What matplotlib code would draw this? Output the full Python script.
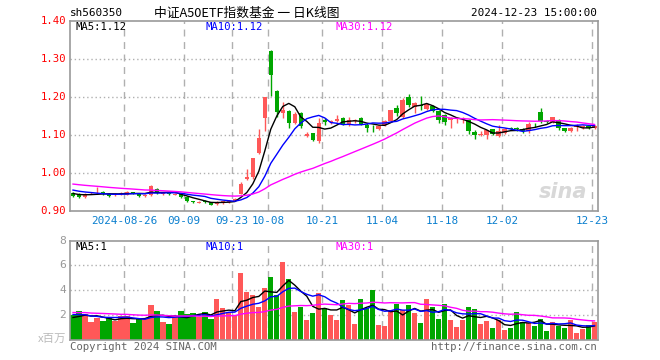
import matplotlib
matplotlib.use("Agg")
import matplotlib.pyplot as plt
import numpy as np
import pandas as pd

# ---------------- data ----------------
holidays = ["2024-09-16", "2024-09-17", "2024-10-01", "2024-10-02", "2024-10-03",
            "2024-10-04", "2024-10-07"]
dates = [d for d in pd.bdate_range("2024-08-13", "2024-12-23") if d.strftime("%Y-%m-%d") not in holidays]

opens = [0.947, 0.945, 0.938, 0.946, 0.946, 0.951, 0.945, 0.942, 0.944, 0.943,
         0.949, 0.946, 0.940, 0.941, 0.959, 0.945, 0.946, 0.943, 0.945, 0.938,
         0.925, 0.922, 0.926, 0.923, 0.918, 0.922, 0.923, 0.927, 0.945, 0.985,
         0.988, 1.053, 1.145, 1.320, 1.215, 1.158, 1.162, 1.131, 1.156, 1.096,
         1.104, 1.085, 1.139, 1.133, 1.137, 1.143, 1.126, 1.136, 1.143, 1.127,
         1.119, 1.116, 1.125, 1.136, 1.170, 1.148, 1.199, 1.173, 1.177, 1.169,
         1.175, 1.162, 1.152, 1.138, 1.142, 1.141, 1.140, 1.107, 1.099, 1.100,
         1.114, 1.096, 1.105, 1.117, 1.117, 1.116, 1.110, 1.127, 1.160, 1.136,
         1.133, 1.140, 1.117, 1.110, 1.120, 1.120, 1.123, 1.118]
highs = [0.949, 0.946, 0.947, 0.951, 0.962, 0.953, 0.946, 0.946, 0.950, 0.953,
         0.951, 0.947, 0.945, 0.968, 0.961, 0.950, 0.947, 0.947, 0.946, 0.939,
         0.927, 0.927, 0.928, 0.924, 0.925, 0.927, 0.929, 0.934, 0.976, 1.009,
         1.040, 1.114, 1.200, 1.322, 1.218, 1.185, 1.164, 1.160, 1.160, 1.108,
         1.106, 1.145, 1.145, 1.140, 1.152, 1.146, 1.146, 1.142, 1.146, 1.130,
         1.127, 1.126, 1.138, 1.166, 1.178, 1.196, 1.208, 1.186, 1.202, 1.184,
         1.178, 1.164, 1.155, 1.146, 1.148, 1.146, 1.141, 1.112, 1.110, 1.113,
         1.116, 1.125, 1.117, 1.121, 1.120, 1.118, 1.134, 1.130, 1.171, 1.140,
         1.148, 1.142, 1.119, 1.121, 1.128, 1.127, 1.125, 1.126]
lows = [0.937, 0.935, 0.933, 0.944, 0.944, 0.943, 0.937, 0.940, 0.942, 0.941,
        0.945, 0.936, 0.937, 0.940, 0.945, 0.941, 0.942, 0.941, 0.935, 0.923,
        0.920, 0.920, 0.922, 0.915, 0.916, 0.919, 0.921, 0.925, 0.944, 0.982,
        0.985, 1.050, 1.111, 1.202, 1.148, 1.145, 1.118, 1.128, 1.119, 1.093,
        1.083, 1.078, 1.126, 1.128, 1.134, 1.126, 1.123, 1.132, 1.125, 1.107,
        1.107, 1.113, 1.122, 1.133, 1.150, 1.145, 1.172, 1.157, 1.165, 1.165,
        1.160, 1.130, 1.125, 1.117, 1.131, 1.131, 1.103, 1.088, 1.096, 1.088,
        1.099, 1.094, 1.102, 1.112, 1.110, 1.104, 1.106, 1.120, 1.131, 1.130,
        1.131, 1.112, 1.108, 1.108, 1.110, 1.114, 1.115, 1.116]
closes = [0.940, 0.938, 0.945, 0.948, 0.948, 0.945, 0.940, 0.944, 0.948, 0.951,
          0.947, 0.940, 0.943, 0.966, 0.947, 0.947, 0.944, 0.945, 0.937, 0.925,
          0.923, 0.924, 0.924, 0.917, 0.923, 0.925, 0.927, 0.932, 0.971, 0.988,
          1.039, 1.092, 1.199, 1.257, 1.160, 1.164, 1.132, 1.155, 1.123, 1.102,
          1.087, 1.130, 1.133, 1.136, 1.141, 1.129, 1.139, 1.139, 1.129, 1.118,
          1.117, 1.124, 1.136, 1.164, 1.158, 1.192, 1.178, 1.184, 1.175, 1.182,
          1.163, 1.138, 1.134, 1.144, 1.145, 1.143, 1.110, 1.099, 1.101, 1.112,
          1.101, 1.111, 1.114, 1.116, 1.115, 1.111, 1.129, 1.125, 1.136, 1.134,
          1.146, 1.118, 1.110, 1.118, 1.123, 1.122, 1.117, 1.122]
volumes = [2.05, 2.32, 2.13, 1.44, 1.79, 1.52, 1.79, 1.55, 1.92, 1.95,
           1.36, 1.73, 1.65, 2.80, 2.32, 1.44, 1.28, 1.87, 2.32, 2.08,
           2.16, 1.87, 2.24, 1.71, 3.28, 2.56, 2.21, 2.00, 5.39, 3.84,
           3.65, 2.64, 4.16, 5.04, 3.65, 6.24, 4.88, 2.24, 2.64, 1.60,
           2.16, 3.76, 2.56, 2.00, 1.60, 3.20, 2.80, 1.28, 3.28, 2.61,
           4.00, 1.20, 1.12, 2.45, 2.88, 2.40, 2.80, 2.16, 1.36, 3.28,
           2.64, 1.68, 2.88, 1.60, 1.04, 1.60, 2.64, 2.48, 1.28, 1.52,
           0.96, 1.60, 0.80, 0.96, 2.24, 1.44, 1.39, 1.12, 1.68, 0.72,
           1.44, 1.12, 0.96, 1.60, 0.56, 0.88, 1.20, 1.44]

# sessions before the visible window (needed only for the moving averages)
prior_closes = [0.990, 0.992, 0.988, 0.985, 0.987, 0.983, 0.980, 0.984, 0.981, 0.978,
                0.975, 0.979, 0.976, 0.972, 0.974, 0.970, 0.973, 0.968, 0.971, 0.966,
                0.968, 0.965, 0.962, 0.964, 0.960, 0.952, 0.948, 0.946, 0.944]
prior_volumes = [2.5, 2.1, 2.6, 2.3, 2.0, 2.4, 2.2, 2.7, 2.1, 2.3,
                 2.5, 2.0, 2.2, 2.4, 2.3, 2.1, 2.6, 2.2, 2.1, 2.2,
                 2.4, 2.2, 2.5, 2.1, 2.25, 1.9, 1.6, 1.8, 1.7]

tick_dates = ["2024-08-26", "2024-09-09", "2024-09-23", "2024-10-08", "2024-10-21",
              "2024-11-04", "2024-11-18", "2024-12-02", "2024-12-23"]
tick_labels = ["2024-08-26", "09-09", "09-23", "10-08", "10-21", "11-04", "11-18", "12-02", "12-23"]
price_ticks = [0.90, 1.00, 1.10, 1.20, 1.30, 1.40]
vol_ticks = [2, 4, 6, 8]

code = "sh560350"
title = "中证A50ETF指数基金 一 日K线图"
stamp = "2024-12-23 15:00:00"

# ---------------- derived ----------------
n = len(closes)
x = np.arange(n)
o = np.array(opens); h = np.array(highs); l = np.array(lows); c = np.array(closes)
v = np.array(volumes)
cs = pd.Series(prior_closes + closes)
vs = pd.Series(prior_volumes + volumes)
npre = len(prior_closes)
ma = {p: cs.rolling(p).mean().values[npre:] for p in (5, 10, 30)}
vma = {p: vs.rolling(p).mean().values[npre:] for p in (5, 10, 30)}

date_str = [d.strftime("%Y-%m-%d") for d in dates]
tick_idx = [date_str.index(t) for t in tick_dates]

RED = "#ff5858"
GREEN = "#00a600"
up = c >= o
colors = np.where(up, RED, GREEN)
ma_colors = {5: "#000000", 10: "#0000ff", 30: "#ff00ff"}
GRID = "#b0b0b0"
SPINE = "#999999"
MONO = "DejaVu Sans Mono"

plt.rcParams["font.family"] = ["Noto Sans CJK SC", "DejaVu Sans"]

W, H = 660, 360
fig = plt.figure(figsize=(W / 100, H / 100), dpi=100)
fig.patch.set_facecolor("white")


def px(xp, yp):
    return xp / W, 1 - yp / H


def trunc(val, d):
    f = 10 ** d
    return f"{np.floor(val * f + 1e-9) / f:.{d}f}"


ax1 = fig.add_axes([70 / W, (H - 211) / H, 527.5 / W, (211 - 20.5) / H])
ax2 = fig.add_axes([70 / W, (H - 340) / H, 527.5 / W, (340 - 240.5) / H])

for ax in (ax1, ax2):
    ax.set_xlim(-0.5, n - 0.5)
    for s in ax.spines.values():
        s.set_color(SPINE)
        s.set_linewidth(1.2)
    ax.set_xticks([])
    ax.set_yticks([])
    for ti in tick_idx:
        ax.axvline(ti - 0.45, color=GRID, lw=1.0, dashes=(5, 4), zorder=0)

# ---- price panel ----
ax1.set_ylim(price_ticks[0], price_ticks[-1])
for yv in price_ticks[1:-1]:
    ax1.axhline(yv, color=GRID, lw=1.0, dashes=(1, 2), zorder=0)

ax1.vlines(x, l, h, colors=colors, lw=1.0, zorder=2)
body_bottom = np.minimum(o, c)
body_h = np.maximum(np.abs(c - o), 0.0015)
ax1.bar(x, body_h, bottom=body_bottom, width=0.74, color=colors, lw=0, zorder=3)
for p in (5, 10, 30):
    ax1.plot(x, ma[p], color=ma_colors[p], lw=1.0, zorder=4)

ax1.text(0.935, 0.1, "sina", transform=ax1.transAxes, fontsize=15, fontweight="bold",
         style="italic", color="#d8d8d8", ha="center", va="center", family="DejaVu Sans", zorder=1)

# ---- volume panel ----
ax2.set_ylim(0, vol_ticks[-1])
for yv in vol_ticks[:-1]:
    ax2.axhline(yv, color=GRID, lw=1.0, dashes=(1, 2), zorder=0)
ax2.bar(x, v, width=0.88, color=colors, lw=0, zorder=2)
for p in (5, 10, 30):
    ax2.plot(x, vma[p], color=ma_colors[p], lw=1.0, zorder=4)

# ---- texts ----
fs = 7.3
fig.text(*px(70, 13.5), code, fontsize=fs + 0.6, family=MONO, va="center", ha="left", color="#000000")
fig.text(*px(247, 13.5), title, fontsize=9.2, va="center", ha="center", color="#000000")
fig.text(*px(597, 13.5), stamp, fontsize=fs + 0.6, family=MONO, va="center", ha="right", color="#000000")

leg_x = [75, 205, 335]
for xx, p in zip(leg_x, (5, 10, 30)):
    fig.text(*px(xx, 27.5), f"MA{p}:{trunc(ma[p][-1], 2)}", fontsize=fs + 0.4, family=MONO,
             va="center", ha="left", color=ma_colors[p])
    fig.text(*px(xx, 246.5), f"MA{p}:{int(np.floor(vma[p][-1]))}", fontsize=fs + 0.4, family=MONO,
             va="center", ha="left", color=ma_colors[p])

for yv in price_ticks:
    yp = ax1.transData.transform((0, yv))[1]
    fig.text(66 / W, yp / H, f"{yv:.2f}", fontsize=fs + 0.4, family=MONO, color="#ff0000",
             ha="right", va="center")
for yv in vol_ticks:
    yp = ax2.transData.transform((0, yv))[1]
    fig.text(66 / W, yp / H, f"{yv}", fontsize=fs + 0.8, family=MONO, color="#999999",
             ha="right", va="center")
fig.text(*px(66, 339), "x百万", fontsize=8.2, color="#bbbbbb", ha="right", va="center",
         family=["Noto Sans CJK SC", "DejaVu Sans"])

for ti, lab in zip(tick_idx, tick_labels):
    xp = ax1.transData.transform((ti - 0.45, 0))[0]
    fig.text(xp / W, 1 - 221.5 / H, lab, fontsize=fs + 0.6, family=MONO, color="#0a7fcf",
             ha="center", va="center")

fig.text(*px(70, 346.5), "Copyright 2024 SINA.COM", fontsize=fs + 0.4, family=MONO,
         color="#666666", ha="left", va="center")
fig.text(*px(597, 346.5), "http://finance.sina.com.cn", fontsize=fs + 0.4, family=MONO,
         color="#666666", ha="right", va="center")

fig.savefig("out.png", dpi=100, facecolor="white")
